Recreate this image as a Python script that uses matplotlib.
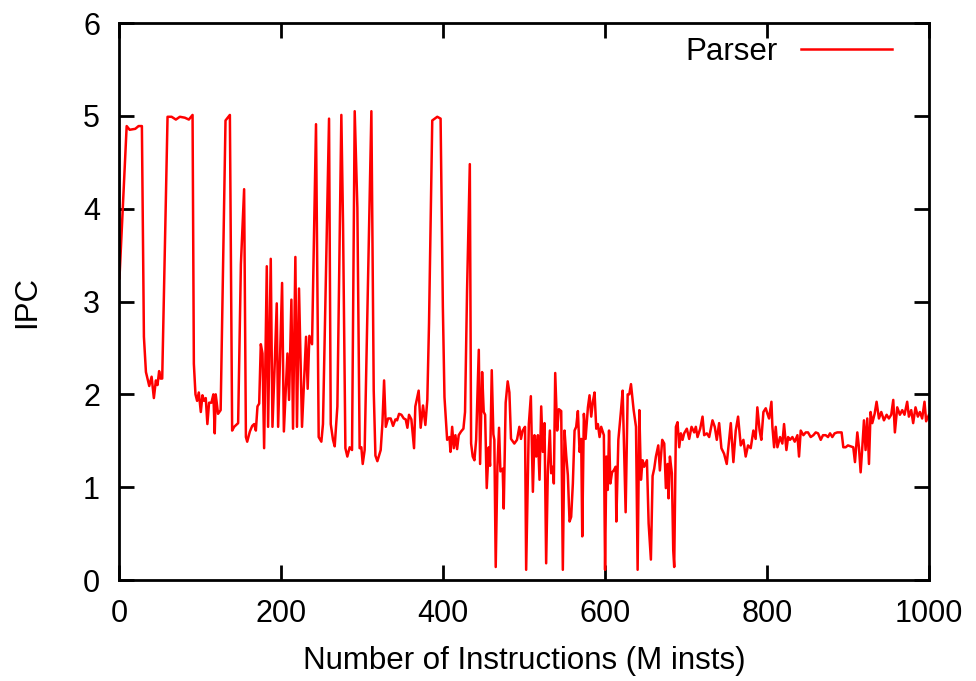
import matplotlib
matplotlib.use('Agg')
import matplotlib.pyplot as plt

plt.rcParams['font.family'] = ['Liberation Sans', 'DejaVu Sans']

# IPC trace (x in M insts)
insts = [0, 8.9, 12.6, 19.5, 23.6, 27.7, 30.2, 32.7, 36.8, 39.7, 42.5, 45, 47, 49, 50.7, 52.8,
         59.4, 64.4, 69.7, 74.6, 80.8, 85.7, 90.3, 91.9, 93.9, 95.9, 98, 100.5, 102.5, 104.5,
         106.6, 108.6, 110.7, 113.6, 116, 117.7, 118.9, 121.8, 125, 131, 136.4, 139.2, 141.7,
         146.6, 150, 154, 156.2, 157.8, 161.1, 164, 166.4, 168.5, 170.5, 172.6, 174.6, 176.7,
         178.7, 182, 183.6, 186.9, 189, 191.8, 194.3, 196, 200.9, 203.1,
         207.5, 209.5, 212.4, 214.4, 217.3, 219.3, 221.8, 225.5, 230.5, 232.5, 234.6, 237.9,
         242.8, 246.1, 249.4, 251.4, 258.9, 261, 263.8, 265.9, 269.2, 274.1, 276.2, 279.1,
         281.5, 284.4, 287.3, 290.6, 293.9, 296.7, 298.8, 300.5, 302.9, 311.2, 314.1, 316.2,
         318.6, 322.7, 324.8, 326.9, 329, 331.8, 335.1, 338, 340.9, 343, 345.4, 348.3, 351.2,
         353.6, 355.7, 357.7, 360.6, 363.9, 365.5, 369.6, 372.1, 375, 377.9, 380.3, 382.4,
         386.4, 392.6, 396.7,
         399.5, 401.5, 404.8, 407.7, 408.9, 411, 413, 415, 417.1, 419.1, 422, 424.9, 426.9,
         429.4, 432.8, 434.4, 436.4, 438.5, 440.6, 443.9, 445.5, 448, 450, 451.7, 453.7, 456.2,
         457.8, 459.9, 461.9, 463.1, 464.8, 466.9, 468.9, 470.6, 473.4, 474.7, 477.1, 479.6,
         481.7, 483.7, 487.8, 491.1, 494, 496, 498.1, 501, 502.4, 505.7, 508.2, 510.7, 512.7,
         514.8, 516.9, 518.9, 521, 523, 525.1, 527.1, 529.2, 531.7, 533.3, 535.4, 536.6, 538.3,
         540.7, 542.8, 545.7, 547.7, 549.8, 551.9, 553.9, 556, 558, 560.1, 562.2, 564.2, 566.3,
         568.4, 570.4, 571.7, 573.7, 575.8, 578.7, 580.7, 582.8, 584.8, 586.9, 589, 591, 593.1,
         595.1, 598.4,
         599.9, 601.5, 603.2, 604.8, 606.4, 608.5, 610.5, 613, 613.8, 616.3, 619.6, 621.6,
         625.3, 627.8, 629.8, 631.9, 635.2, 638.1, 640.1, 642.2, 644.2, 646.3, 648.3, 651.6,
         653.7, 656.5, 658.6, 660.6, 662.7, 665.6, 667.6, 670.5, 673, 675, 677.1, 678.3, 680,
         682.4, 684.1, 685.3, 687.4, 689.4, 691.5, 693.5, 695.6, 697.6, 700.9, 703.8, 706.7,
         710, 712, 714.1, 717.4, 720.3, 722.3, 725.6, 728.5, 732.6, 735.4, 737.9, 740.8, 743.6,
         746.9, 750.2, 753.1, 755.2, 758.4, 761.3, 764.2, 767.5, 770.8, 773.6, 776.5, 779.8,
         783.1, 785.9, 788, 790.8, 792.9, 795.5,
         798.4, 800.5, 802.5, 805.4, 806.6, 808.7, 810.7, 812.8, 816.1, 818.9, 821, 823.9, 826,
         828.4, 831.3, 834.2, 837.5, 839.5, 841.6, 844.9, 847.8, 850.6, 853.9, 857.2, 860.1,
         863, 866.3, 869.1, 872.4, 875.3, 877.8, 880.6, 883.5, 886.8, 890.1, 892.1, 894.2,
         897.1, 899.9, 903.2, 906.5, 908.6, 911.5, 913.5, 915.6, 917.6, 919.7, 921.7, 923.8,
         925.9, 927.9, 930, 932.9, 935.3, 938.2, 941.1, 944.4, 947.7, 950.5, 953.4, 955.9,
         957.9, 960.8, 964.1, 967, 969.8, 973.1, 975.2, 978.1, 980.5, 983.4, 986.3, 988.8,
         991.6, 994.5, 996.5, 1000]

ipc = [3.25, 4.89, 4.85, 4.86, 4.89, 4.89, 2.62, 2.24, 2.09, 2.19, 1.96, 2.15, 2.1, 2.25, 2.17, 2.17,
       4.99, 4.99, 4.96, 4.99, 4.98, 4.96, 5.01, 2.33, 2.0, 1.93, 2.02, 1.81, 1.99, 1.93,
       1.96, 1.68, 1.91, 1.91, 2.0, 1.58, 2.0, 1.79, 1.83, 4.95, 5.01, 1.61, 1.65,
       1.69, 3.4, 4.21, 1.54, 1.49, 1.6, 1.66, 1.68, 1.61, 1.87, 1.9, 2.54, 2.44,
       1.42, 3.38, 1.65, 3.46, 1.65, 2.33, 2.98, 1.65, 3.2, 1.6,
       2.44, 1.94, 3.02, 1.63, 3.48, 1.65, 3.14, 1.65, 2.62, 2.06, 2.63, 2.54,
       4.91, 1.54, 1.49, 1.68, 4.97, 1.68, 1.51, 1.44, 1.87, 5.01, 3.83, 1.42,
       1.33, 1.43, 1.4, 5.05, 4.01, 1.42, 1.43, 1.25, 1.4, 5.05, 2.04, 1.34,
       1.28, 1.4, 1.68, 2.15, 1.65, 1.74, 1.74, 1.66, 1.73, 1.72, 1.79, 1.78, 1.74,
       1.73, 1.64, 1.78, 1.73, 1.42, 1.87, 2.04, 1.64, 1.88, 1.67, 1.94, 2.76,
       4.95, 4.99, 4.97,
       2.94, 1.97, 1.51, 1.54, 1.38, 1.65, 1.42, 1.56, 1.41, 1.56, 1.6, 1.63, 1.81,
       3.12, 4.48, 1.47, 1.33, 1.29, 1.51, 2.48, 1.25, 2.24, 1.81, 1.78, 0.99, 1.43,
       1.23, 2.26, 1.57, 1.51, 0.14, 1.22, 1.64, 1.17, 1.2, 0.77, 1.91, 2.14,
       2.02, 1.52, 1.47, 1.51, 1.65, 1.52, 1.61, 1.65, 0.11, 1.68, 1.98, 0.95, 1.56,
       1.33, 1.56, 1.08, 1.87, 1.38, 1.69, 0.18, 1.17, 1.61, 1.15, 1.22, 1.04, 2.23,
       1.61, 1.84, 1.82, 0.11, 1.61, 1.34, 1.13, 0.63, 0.68, 1.04, 1.61, 1.65, 1.82,
       1.38, 1.52, 0.47, 1.79, 1.52, 1.86, 1.99, 1.76, 1.92, 2.02, 1.63, 1.68, 1.54,
       1.65, 1.56,
       0.11, 1.33, 0.97, 1.61, 1.04, 1.16, 1.18, 1.22, 0.63, 1.51, 1.83, 2.04,
       0.73, 2.0, 2.0, 2.11, 1.83, 1.65, 0.11, 1.83, 1.08, 1.29, 1.22, 1.29,
       0.61, 0.22, 1.12, 1.2, 1.33, 1.45, 1.18, 1.51, 1.47, 0.99, 1.25, 0.88, 1.33,
       1.15, 0.32, 0.14, 1.65, 1.7, 1.43, 1.58, 1.51, 1.58, 1.63, 1.52, 1.65,
       1.59, 1.65, 1.54, 1.63, 1.76, 1.56, 1.58, 1.54, 1.72, 1.65, 1.51, 1.69, 1.42,
       1.36, 1.25, 1.51, 1.69, 1.27, 1.61, 1.76, 1.45, 1.51, 1.33, 1.45, 1.42,
       1.61, 1.52, 1.86, 1.61, 1.51, 1.81,
       1.85, 1.79, 1.74, 1.92, 1.65, 1.43, 1.65, 1.43, 1.54, 1.47, 1.68, 1.4, 1.54,
       1.51, 1.54, 1.49, 1.56, 1.33, 1.61, 1.56, 1.59, 1.59, 1.54, 1.56, 1.59,
       1.58, 1.51, 1.56, 1.56, 1.54, 1.58, 1.54, 1.58, 1.59, 1.59, 1.59, 1.43,
       1.43, 1.45, 1.44, 1.43, 1.27, 1.59, 1.43, 1.16, 1.42, 1.72, 1.4, 1.74,
       1.25, 1.81, 1.69, 1.79, 1.92, 1.74, 1.81, 1.72, 1.78, 1.74, 1.78, 1.94,
       1.59, 1.86, 1.78, 1.83, 1.78, 1.92, 1.76, 1.83, 1.69, 1.86, 1.76, 1.81,
       1.74, 1.92, 1.71, 1.78]

x_ticks = [0, 200, 400, 600, 800, 1000]
y_ticks = [0, 1, 2, 3, 4, 5, 6]

fig = plt.figure(figsize=(9.76, 6.81), dpi=100)
ax = fig.add_axes([0.1224, 0.1483, 0.8294, 0.8179])

ax.plot(insts, ipc, color='#ff0000', linewidth=1.8, label='Parser')

ax.set_xlim(0, 1000)
ax.set_ylim(0, 6)
ax.set_xticks(x_ticks)
ax.set_yticks(y_ticks)
ax.tick_params(direction='in', length=11, width=2, top=True, right=True,
               labelsize=22, pad=14)
for s in ax.spines.values():
    s.set_linewidth(2)

ax.set_xlabel('Number of Instructions (M insts)', fontsize=22.5, va='top')
ax.xaxis.set_label_coords(0.5, -0.118)
ax.set_ylabel('IPC', fontsize=22.5)
ax.yaxis.set_label_coords(-0.096, 0.5)

ax.legend(loc='center right', bbox_to_anchor=(892 / 976, 1 - 52 / 681),
          bbox_transform=fig.transFigure, frameon=False, markerfirst=False,
          fontsize=22.5, handlelength=2.9, handletextpad=0.75,
          borderpad=0, borderaxespad=0)

fig.savefig('out.png', dpi=100)
